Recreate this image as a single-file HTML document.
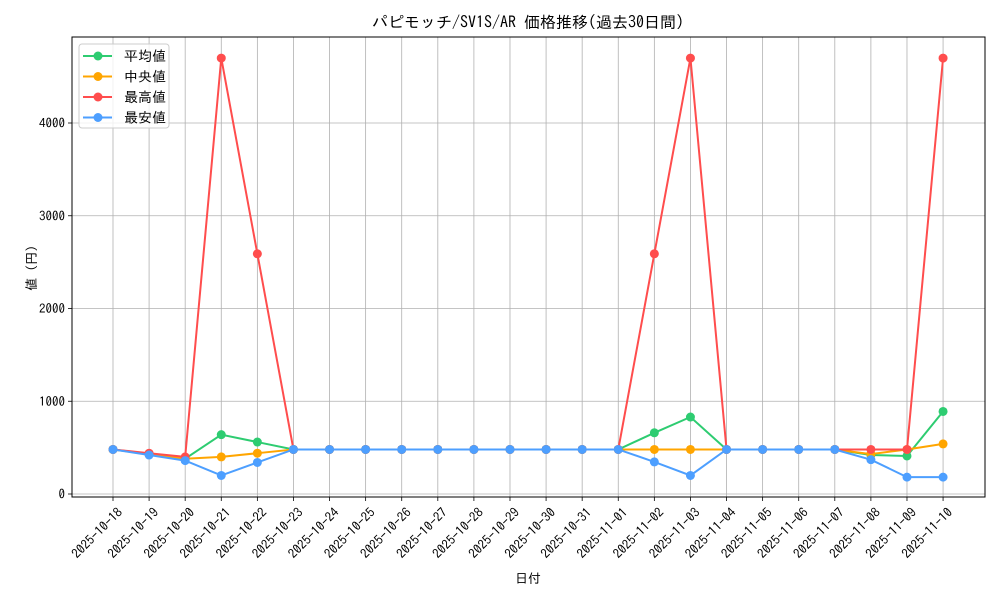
<!DOCTYPE html><html><head><meta charset="utf-8"><style>body{margin:0;background:#fff}svg{display:block;font-family:"IPAGothic","Noto Sans CJK JP",sans-serif}</style></head><body>
<svg id="s" width="1000" height="600" xmlns="http://www.w3.org/2000/svg"></svg>
<script>
const s=document.getElementById('s');let h='';
const L=72,R=985,T=37,B=497;
const X=i=>113+i*36.09, Y=v=>494-v*0.09275;
const dates=[];for(let d=18;d<=31;d++)dates.push('2025-10-'+d);for(let d=1;d<=10;d++)dates.push('2025-11-'+String(d).padStart(2,'0'));
dates.forEach((d,i)=>{const x=X(i);h+=`<line x1="${x}" y1="${T}" x2="${x}" y2="${B}" stroke="#b0b0b0" stroke-width="0.8"/><line x1="${x}" y1="${B}" x2="${x}" y2="${B+4}" stroke="#000" stroke-width="0.8"/><text transform="translate(${x+4},${B+10}) rotate(-45)" text-anchor="end" font-size="13" dominant-baseline="hanging">${d}</text>`});
[0,1000,2000,3000,4000].forEach(v=>{const y=Y(v);h+=`<line x1="${L}" y1="${y}" x2="${R}" y2="${y}" stroke="#b0b0b0" stroke-width="0.8"/><line x1="${L-4}" y1="${y}" x2="${L}" y2="${y}" stroke="#000" stroke-width="0.8"/><text x="${L-7}" y="${y+4.5}" text-anchor="end" font-size="13">${v}</text>`});
const base=Array(24).fill(480);
function mk(o){const a=base.slice();for(const k in o)a[k]=o[k];return a}
const series=[
['#2ecc71',mk({1:430,2:380,3:640,4:560,15:660,16:830,21:420,22:410,23:890})],
['#ffa500',mk({1:430,2:380,3:400,4:440,21:430,23:540})],
['#ff4d4d',mk({1:440,2:400,3:4700,4:2590,15:2590,16:4700,23:4700})],
['#4d9fff',mk({1:420,2:360,3:200,4:340,15:346,16:200,21:370,22:182,23:182})]];
series.forEach(([c,a])=>{h+=`<polyline fill="none" stroke="${c}" stroke-width="2" points="${a.map((v,i)=>X(i)+','+Y(v)).join(' ')}"/>`;a.forEach((v,i)=>h+=`<circle cx="${X(i)}" cy="${Y(v)}" r="4.5" fill="${c}"/>`)});
h+=`<rect x="${L}" y="${T}" width="${R-L}" height="${B-T}" fill="none" stroke="#000" stroke-width="1"/>`;
h+=`<rect x="79" y="44" width="90" height="84" rx="3" fill="#fff" fill-opacity="0.8" stroke="#ccc"/>`;
['平均値','中央値','最高値','最安値'].forEach((t,i)=>{const y=56+i*20.5;h+=`<line x1="83" y1="${y}" x2="112" y2="${y}" stroke="${series[i][0]}" stroke-width="2"/><circle cx="98" cy="${y}" r="4.5" fill="${series[i][0]}"/><text x="124" y="${y+5}" font-size="14">${t}</text>`});
h+=`<text x="528" y="28" text-anchor="middle" font-size="16">パピモッチ/SV1S/AR 価格推移(過去30日間)</text>`;
h+=`<text x="528" y="583" text-anchor="middle" font-size="13">日付</text>`;
h+=`<text transform="translate(36,268) rotate(-90)" text-anchor="middle" font-size="13">値 (円)</text>`;
s.innerHTML=h;
</script></body></html>
